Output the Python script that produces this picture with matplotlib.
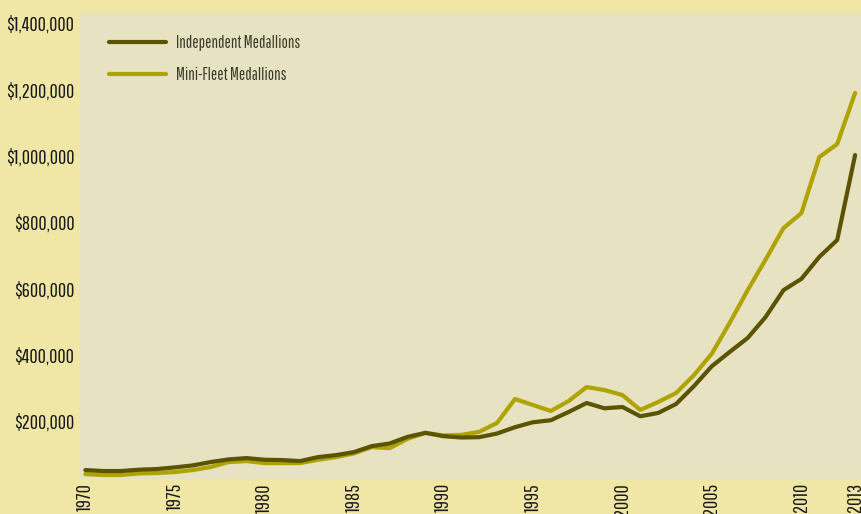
import matplotlib.pyplot as plt
import numpy as np

years = np.arange(1970, 2014)

# valeurs (dollars)
independent = [54000, 51000, 51000, 55000, 57000, 62000, 68000, 78000, 86000, 90000,
               85000, 84000, 81000, 93000, 99000, 108000, 126000, 134000, 154000, 166000,
               156000, 152000, 153000, 164000, 183000, 198000, 204000, 229000, 256000, 240000,
               244000, 216000, 226000, 253000, 307000, 367000, 410000, 452000, 515000, 596000,
               630000, 696000, 747000, 1003000]
minifleet = [42000, 39000, 39000, 44000, 45000, 48000, 54000, 63000, 78000, 81000,
             75000, 75000, 75000, 85000, 93000, 104000, 123000, 120000, 148000, 166000,
             158000, 160000, 169000, 196000, 268000, 250000, 232000, 262000, 304000, 295000,
             280000, 235000, 259000, 286000, 340000, 405000, 498000, 596000, 688000, 783000,
             828000, 997000, 1036000, 1190000]

ytick_vals = [200000, 400000, 600000, 800000, 1000000, 1200000, 1400000]
xtick_vals = [1970, 1975, 1980, 1985, 1990, 1995, 2000, 2005, 2010, 2013]

plt.rcParams['font.family'] = ['Pathway Gothic One', 'DejaVu Sans']

fig = plt.figure(figsize=(8.61, 5.14), dpi=100)
fig.patch.set_facecolor('#f0e6a6')
ax = fig.add_axes([80 / 861, 35 / 514, 781 / 861, 466 / 514])
ax.set_facecolor('#e7e2c2')

ax.plot(years, minifleet, color='#afa300', linewidth=3.0, label='Mini-Fleet Medallions',
        solid_capstyle='round', zorder=2)
ax.plot(years, independent, color='#5b5300', linewidth=3.0, label='Independent Medallions',
        solid_capstyle='round', zorder=3)

ax.set_xlim(1969.7, 2013.33)
ax.set_ylim(27000, 1431000)

ax.set_yticks(ytick_vals)
ax.set_yticklabels(['${:,}'.format(v) for v in ytick_vals], fontsize=14.5, color='#1a1a1a',
                   fontweight='bold')
ax.set_xticks(xtick_vals)
ax.set_xticklabels([str(v) for v in xtick_vals], rotation=90, fontsize=14.5, color='#1a1a1a',
                   va='top', fontweight='bold')
ax.tick_params(axis='y', length=0, pad=4)
ax.tick_params(axis='x', length=0, pad=3)
for s in ax.spines.values():
    s.set_visible(False)

h, l = ax.get_legend_handles_labels()
leg = ax.legend(h[::-1], l[::-1], loc='upper left', bbox_to_anchor=(0.018, 0.985), frameon=False,
                fontsize=12, handlelength=3.4, handletextpad=0.6, labelspacing=0.95)
for t in leg.get_texts():
    t.set_color('#3a3a2a')

fig.savefig('out.png', dpi=100, facecolor=fig.get_facecolor())
